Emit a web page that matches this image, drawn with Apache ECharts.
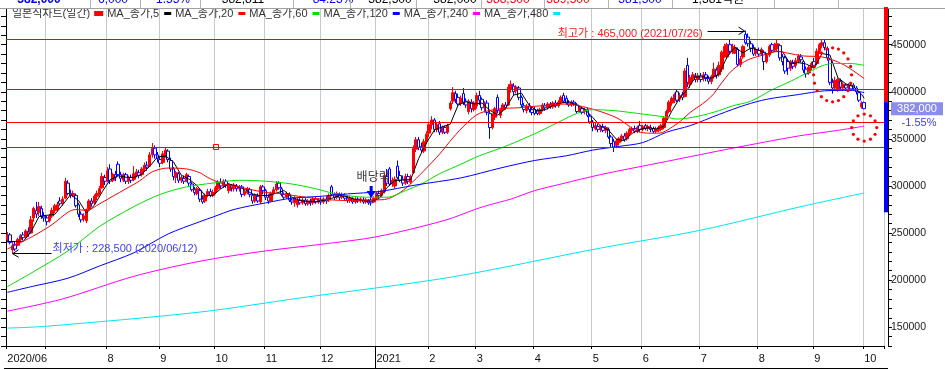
<!DOCTYPE html>
<html>
<head>
<meta charset="utf-8">
<script src="https://cdn.jsdelivr.net/npm/echarts@6/dist/echarts.min.js"></script>
<style>
html, body { margin: 0; padding: 0; background: #fff; }
#chart { width: 945px; height: 370px; }
</style>
</head>
<body>
<div id="chart"></div>
<script>
// 거래일 (월별)
var tradeDays = [
  ['2020/06', [10,11,12,15,16,17,18,19,22,23,24,25,26,29,30]],
  ['2020/07', [1,2,3,6,7,8,9,10,13,14,15,16,17,20,21,22,23,24,27,28,29,30,31]],
  ['2020/08', [3,4,5,6,7,10,11,12,13,14,18,19,20,21,24,25,26,27,28,31]],
  ['2020/09', [1,2,3,4,7,8,9,10,11,14,15,16,17,18,21,22,23,24,25,28,29]],
  ['2020/10', [5,6,7,8,12,13,14,15,16,19,20,21,22,23,26,27,28,29,30]],
  ['2020/11', [2,3,4,5,6,9,10,11,12,13,16,17,18,19,20,23,24,25,26,27,30]],
  ['2020/12', [1,2,3,4,7,8,9,10,11,14,15,16,17,18,21,22,23,24,28,29,30]],
  ['2021/01', [4,5,6,7,8,11,12,13,14,15,18,19,20,21,22,25,26,27,28,29]],
  ['2021/02', [1,2,3,4,5,8,9,10,15,16,17,18,19,22,23,24,25,26]],
  ['2021/03', [2,3,4,5,8,9,10,11,12,15,16,17,18,19,22,23,24,25,26,29,30,31]],
  ['2021/04', [1,2,5,6,7,8,9,12,13,14,15,16,19,20,21,22,23,26,27,28,29,30]],
  ['2021/05', [3,4,6,7,10,11,12,13,14,17,18,20,21,24,25,26,27,28,31]],
  ['2021/06', [1,2,3,4,7,8,9,10,11,14,15,16,17,18,21,22,23,24,25,28,29,30]],
  ['2021/07', [1,2,5,6,7,8,9,12,13,14,15,16,19,20,21,22,23,26,27,28,29,30]],
  ['2021/08', [2,3,4,5,6,9,10,11,12,13,17,18,19,20,23,24,25,26,27,30,31]],
  ['2021/09', [1,2,3,6,7,8,9,10,13,14,15,16,17,23,24,27,28,29,30]],
  ['2021/10', [1]]
];

// 월 눈금 라벨
var monthLabels = {
  '2020/06': '2020/06', '2020/07': '', '2020/08': '8', '2020/09': '9', '2020/10': '10',
  '2020/11': '11', '2020/12': '12', '2021/01': '2021', '2021/02': '2', '2021/03': '3',
  '2021/04': '4', '2021/05': '5', '2021/06': '6', '2021/07': '7', '2021/08': '8',
  '2021/09': '9', '2021/10': '10'
};

// 일봉 [시가, 종가, 저가, 고가] (천원)
var c2006 = [[243,248,240,251],[248,240,238,250],[232,236.5,228.5,241],[238,233,231,241],[237,243,236,245],
  [243,247,241,249],[248,245,242,251],[246,252,244,254],[251,249,246,256],[250,264,249,268],
  [266,276,262,278],[274,270,266,283],[272,278,268,283],[276,268,265,279],[268,266,262,272]];
var c2007 = [[266,262,258,268],[263,268,261,270],[268,274,266,277],[274,279,271,281],[275,280,273,283],
  [284,281,279,288],[282,286,279,289],[287,305,286,308.5],[303,292,290,306],[292,290,287,296],
  [290,292,288,295],[290,279,277,292],[280,270,267,282],[270,264,261,273],[265,268,262,271],
  [263,275,260.5,276],[276,284,274,286],[284,281,278,287],[282,289,280,291],[289,292,285,295],
  [292,297,290,300],[298,310,297,314],[309,305,301,312]];
var c2008 = [[306,316,304,320],[318,305,302,323],[306,312,304,314],[312,309,305,316],[323,312,310,326],
  [312,308,304,315],[306,312,304,314],[312,305,302,314],[305,309,302,311],[309,306,303,312],
  [307,313,305,321],[312,315,309,318],[314,311,308,317],[312,318,310,320],[318,322,315,325],
  [322,320,316,326],[321,333,320,336],[333,340,330,345.5],[340,333,329,343],[333,329,325,336]];
var c2009 = [[328,324,320,331],[325,334,323,337],[333,338,330,341],[337,328,325,339],[327,318,315,330],
  [318,310,306,320],[309,314,303,316],[313,306,303,315],[306,309,303,311],[308,305,302,311],
  [305,312,304,314],[310,303,300,312],[302,296,294,304],[296,293,290,299],[292,297,290,299],
  [295,286,283,297],[286,283,281,290],[284,290,282,292],[291,294,288,297],[294,290,288,297],
  [290,293,288,296]];
var c2010 = [[293,298,291,300],[297,304,295,306],[304,300,297,308],[300,305,298,307],[305,301,298,307],
  [295,301,292,303],[300,298,294,302],[297,301,294,303],[300,297,294,302],[297,299,294,301],
  [299,291,288,301],[291,294,289,296],[293,297,291,299],[296,291,288,298],[290,284,281,292],
  [284,290,282,292],[289,284,282,292],[283,299,281,301],[299,295,291,301]];
var c2011 = [[295,288,285,297],[288,284,281,291],[284,292,283,294],[292,296,290,299],[296,302,294,305],
  [303,298,296,305],[297,291,289,299],[291,288,285,293],[288,292,286,294],[291,285,283,293],
  [285,283,280,287],[282,287,278,289],[280,285,277,287],[285,282,280,287],[282,285,280,287],
  [285,281,279,287],[281,284,279,286],[284,282,279,286],[282,286,280,288],[286,283,281,288],
  [283,285,281,287]];
var c2012 = [[285,283,280,288],[283,286,281,288],[286,284,281,289],[285,290,283,292],[299,291,289,301],
  [291,288,285,293],[288,292,286,294],[291,288,285,293],[288,291,286,293],[290,287,284,292],
  [287,285,282,289],[285,287,282,289],[286,283,281,288],[283,286,281,288],[286,284,282,288],
  [284,286,282,288],[285,283,281,288],[283,285,281,287],[284,282,280,286],[285,282,279,292],
  [283,287,282,289]];
var c2101 = [[287,292,285,294],[292,290,287,295],[290,295,288,297],[294,311,292,314],[310,303,300,318],
  [318,302,300,320],[302,306,299,309],[300,307,297,310],[321,309,307,327],[311,306,304,316],
  [307,303,300,311],[303,310,301,313],[310,305,302,313],[304,310,302,312],[314,340,313,343],
  [339,349,336,352],[349,341,338,352],[342,338,335,346],[337,347,335,350],[347,355,344,358]];
var c2102 = [[356,365,352,368],[365,370,360,374],[370,360,357,372],[360,365,357,368],[366,357,354,369],
  [357,362,355,364],[362,357,355,364],[357,364,355,366],[382,388,380,390],[390,399,387,405],
  [398,392,388,401],[394,387,385,398],[388,393,385,396],[398,389,386,404],[390,386,383,393],
  [379,390,376,392],[389,382,378,392],[381,388,379,390]];
var c2103 = [[385,396,382,399],[396,391,386,401],[392,383,380,394],[383,388,378,390],[388,378,375,391],
  [377,362,350,380],[362,374,360,377],[373,382,370,384],[394,380,377,397],[375,381,372,383],
  [381,386,379,388],[386,383,381,389],[386,405,385,408],[403,408,399,412],[406,400,396,409],
  [401,405,398,407],[404,394,391,406],[394,386,383,396],[385,381,378,388],[380,385,377,387],
  [385,381,378,388],[381,378,375,384]];
var c2104 = [[381,377,375,384],[380,377,375,382],[377,381,375,383],[381,386,379,388],[385,383,380,388],
  [383,387,381,389],[386,384,382,389],[384,388,382,390],[388,385,383,391],[385,389,383,391],
  [389,394,387,396],[396,390,388,399],[393,388,386,396],[388,386,384,391],[386,389,384,391],
  [389,387,385,391],[386,379,377,388],[380,383,378,385],[382,378,376,384],[379,381,376,383],
  [381,375,373,383],[374,368,366,376]];
var c2105 = [[368,362,358,370],[361,364,359,367],[363,360,357,366],[360,363,357,365],[363,359,357,366],
  [359,362,356,364],[360,352,350,362],[352,345,341,354],[347,341,336,350],[343,348,340,350],
  [346,350,343,352],[350,353,347,355],[353,349,347,356],[350,356,348,358],[355,360,353,362],
  [359,361,356,363],[361,358,356,364],[358,362,356,364],[364,360,357,369]];
var c2106 = [[360,363,358,365],[364,361,359,366],[361,363,358,365],[362,360,357,365],[361,358,356,363],
  [358,360,356,363],[359,362,357,364],[360,364,358,366],[362,372,360,374],[372,379,370,381],
  [379,389,377,391],[388,393,385,395],[391,397,388,399],[400,391,389,402],[392,396,389,399],
  [397,394,391,400],[395,422,394,425],[428,410,405,436],[408,415,404,418],[414,418,410,421],
  [416,413,410,420],[413,417,410,420]];
var c2107 = [[417,413,410,420],[414,418,411,421],[418,414,411,421],[414,411,408,417],[411,416,408,418],
  [416,424,414,431],[423,417,414,426],[418,428,416,432],[424,442,421,444],[440,448,436,451],
  [437,450,435,452],[450,443,440,456],[443,448,440,451],[441,447,440,450],[445,429,427,447],
  [429,435,426,438],[437,448,435,450],[461,452,450,465],[458,451,448,462],[451,446,442,454],
  [447,440,438,450],[441,444,438,447]];
var c2108 = [[444,440,437,447],[441,445,438,447],[442,432,423,444],[432,439,430,441],[439,448,437,450],
  [450,444,441,452],[444,450,442,452],[446,451,443,455],[449,436,433,451],[437,432,428,440],
  [436,422,419,438],[432,425,418,434],[425,432,422,434],[431,427,424,434],[428,433,425,436],
  [432,438,430,440],[437,434,431,440],[432,423,420,434],[424,419,415,427],[420,426,418,428],
  [426,430,423,432]];
var c2109 = [[432,428,425,436],[430,443,428,446],[443,450,440,452],[449,452,446,456],[452,447,444,455],
  [446,436,433,448],[434,410,407,436],[410,404,398,414],[404,412,401,416],[402,413,400,415],
  [411,405,402,414],[404,408,401,410],[407,404,401,409],[404,407,401,409],[407,403,401,409],
  [407,404,402,409],[404,400,397,406],[399,391,389,401],[384,388,382,390]];
var c2110 = [[388.5,382,381.5,389.5]];

// 이동평균 [거래일 순번, 값] (천원)
var ma5 = [[0,241],[3,241],[6,240.9],[9,251.4],[12,267.4],[15,268.8],[18,269.8],[21,280],[24,290.8],[27,284.6],
  [30,271.2],[33,279.4],[36,293.8],[39,306.6],[42,310.8],[45,309.2],[48,309],[51,312.6],[54,320.8],[57,331],
  [60,331.6],[63,325.6],[66,311.4],[69,307],[72,300.2],[75,289.8],[78,290],[81,297],[84,302.2],[87,299.6],
  [90,296.4],[93,291.4],[96,289.6],[99,290],[102,292.4],[105,295],[108,287.8],[111,284.4],[114,283.4],[117,283.2],
  [120,284.6],[123,286.8],[126,289.8],[129,288.6],[132,285.6],[135,284.4],[138,283.6],[141,286.6],[144,298.2],[147,305.8],
  [150,306.2],[153,306.8],[156,329],[159,346],[162,359.4],[165,362.8],[168,365.6],[171,386],[174,389.4],[177,387],
  [180,388],[183,380.4],[186,375.2],[189,382.4],[192,396.4],[195,398.6],[198,385.4],[201,379.6],[204,380.8],[207,385.6],
  [210,388],[213,389.4],[216,385.8],[219,381.6],[222,372.8],[225,363.4],[228,359.2],[231,349.6],[234,348.2],[237,355.8],
  [240,360.2],[243,361.8],[246,360.4],[249,363.2],[252,379.4],[255,393.2],[258,402.6],[261,415.6],[264,415.8],[267,414.4],
  [270,419.2],[273,437],[276,447.2],[279,441.4],[282,446.4],[285,444.2],[288,440],[291,442.6],[294,442.6],[297,429.4],
  [300,431],[303,429.4],[306,425.2],[309,440.6],[312,439],[315,415],[318,408.4],[321,405.2],[324,397.2],[325,393]];
var ma20 = [[0,233],[10,247],[17,259],[23,272],[26,275],[30,274],[35,281],[40,289],[45,297],[50,305],
  [55,315],[61,319],[68,318],[73,314],[76,309],[81,303],[91,297],[98,293],[103,292],[108,290],
  [119,286],[129,284.5],[136,285],[143,285.5],[149,293],[154,305],[159,319],[164,334],[169,351],[174,366],
  [179,377],[187,382],[194,383],[202,385],[212,387],[220,383],[227,377],[232,371],[239,358],[244,356],
  [247,356],[254,366],[259,378],[265,390],[268,398],[270,406],[275,423],[281,434],[288,440],[292,443],
  [296,441],[302,438],[309,437],[317,429],[325,414]];
var ma60 = [[0,193],[10,209],[23,231],[35,257],[48,278],[58,291],[68,299],[78,303],[88,306],[98,305],
  [108,302],[117,297],[124,292],[136,288],[144,288],[151,295],[157,302],[164,313],[172,323],[179,332],
  [187,340],[194,348],[202,358],[210,369],[216,377],[222,381],[230,380],[239,377],[250,373],[254,371],
  [262,374],[270,380],[275,385],[282,390],[290,402],[297,411],[304,421],[309,427.5],[313,430],[320,430],[325,428]];
var ma120 = [[0,187],[10,193.6],[23,202],[35,215],[48,229],[61,249],[73,262],[78,267],[86,275],[98,282],
  [108,287],[119,289],[129,291.5],[141,294],[155,301],[172,308.5],[187,319],[200,327],[212,332],[222,338],
  [232,342],[241,346],[250,357],[259,364],[270,376],[280,386],[288,392],[300,397],[310,401],[320,401.5],[325,399]];
var ma240 = [[0,167],[21,180],[48,204],[73,220],[98,231],[119,238],[140,246],[166,263.5],[179,276.6],[187,283],
  [191,286],[200,295],[210,302],[225,312],[250,326],[275,340],[300,353],[315,359],[325,363.5]];
var ma480 = [[0,149],[15,151],[73,166],[111,181],[168,203],[225,234],[263,253],[301,278],[325,292.5]];

// 수평 기준선 (원)
var hLines = [455500, 402500, 368000, 341500];

var lastClose = 382000;
var lastChange = '-1.55%';
var highInfo = { idx: 280, value: 465000, text: '최고가 : 465,000 (2021/07/26)' };
var lowInfo = { idx: 2, value: 228500, text: '최저가 : 228,500 (2020/06/12)' };
var exDivIdx = 138;

var headerCells = [
  ['382,000', 39, '#0000ff', true], ['6,000', 113, '#0000ff'], ['1.55%', 173, '#0000ff'],
  ['382,811', 243, '#000000'], ['84.23%', 333, '#0000ff'], ['382,500', 390, '#000000'],
  ['382,000', 455, '#000000'], ['388,500', 508, '#ff0000'], ['389,500', 568, '#ff0000'],
  ['381,500', 640, '#0000ff'], ['1,381억원', 718, '#000000']
];
var headerSeps = [90, 140, 200, 293, 350, 416, 481, 544, 608, 672, 774, 838];

var FONT = '"Liberation Sans", "Noto Sans CJK KR", sans-serif';

// ---- build ----
var dates = [];
var monthStart = {};
tradeDays.forEach(function (m) {
  monthStart[dates.length] = m[0];
  m[1].forEach(function (d) { dates.push(m[0] + '/' + (d < 10 ? '0' : '') + d); });
});
var categories = dates.slice();
for (var k = 1; k <= 7; k++) categories.push('pad' + k);

var candles = [].concat(c2006, c2007, c2008, c2009, c2010, c2011, c2012, c2101, c2102,
  c2103, c2104, c2105, c2106, c2107, c2108, c2109, c2110).map(function (r) {
  return [r[0] * 1000, r[1] * 1000, r[2] * 1000, r[3] * 1000];
});

function isMonthStart(idx) { return monthStart.hasOwnProperty(idx); }

var maDefs = [
  ['MA_종가,5', ma5, '#000000', false],
  ['MA_종가,20', ma20, '#ff0000', true],
  ['MA_종가,60', ma60, '#00e000', true],
  ['MA_종가,120', ma120, '#0000ff', true],
  ['MA_종가,240', ma240, '#ff00ff', true],
  ['MA_종가,480', ma480, '#00e6f0', true]
];

var series = [{
  name: '일본식차트(일간)',
  type: 'candlestick',
  data: candles,
  barWidth: 3,
  z: 2,
  itemStyle: { color: '#ff0000', color0: '#ffffff', borderColor: '#ff0000', borderColor0: '#0000ff', borderWidth: 1 },
  markLine: {
    silent: true, symbol: ['none', 'none'], label: { show: false },
    lineStyle: { color: '#ff0000', width: 1, type: 'solid' },
    data: hLines.map(function (v) { return { yAxis: v }; })
  }
}];
maDefs.forEach(function (d) {
  series.push({
    name: d[0], type: 'line', z: 3, silent: true,
    data: d[1].map(function (p) { return [p[0], p[1] * 1000]; }),
    smooth: d[3] ? 0.3 : false,
    showSymbol: false, symbol: 'none',
    color: d[2],
    lineStyle: { width: 1, color: d[2] }
  });
});

var legendData = [{ name: '일본식차트(일간)', itemStyle: { color: '#ff0000' } }].concat(
  maDefs.map(function (d) { return { name: d[0], itemStyle: { color: d[2] } }; }));

var chart = echarts.init(document.getElementById('chart'));
chart.setOption({
  animation: false,
  backgroundColor: '#ffffff',
  grid: { left: 6, right: 61, top: 7, bottom: 24 },
  legend: {
    left: 12, top: 8, align: 'right', icon: 'rect', itemWidth: 7, itemHeight: 3, itemGap: 4,
    selectedMode: false, padding: 0,
    textStyle: { fontSize: 11, color: '#333', fontFamily: FONT, padding: [0, 0, 0, 0] },
    data: legendData
  },
  xAxis: {
    type: 'category', data: categories, boundaryGap: true,
    axisLine: { lineStyle: { color: '#000', width: 1 } },
    axisTick: { show: true, interval: isMonthStart, length: 3, lineStyle: { color: '#000' } },
    axisLabel: {
      interval: isMonthStart, align: 'left', margin: 7, fontSize: 11, color: '#111', fontFamily: FONT,
      formatter: function (v, idx) { return isMonthStart(idx) ? monthLabels[monthStart[idx]] : ''; }
    },
    splitLine: { show: true, interval: isMonthStart, lineStyle: { color: '#c8c8c8', width: 1 } }
  },
  yAxis: [{
    type: 'value', position: 'right', offset: 4, min: 130000, max: 490000, interval: 10000,
    axisLine: { show: true, lineStyle: { color: '#000' } },
    axisTick: { show: true, length: 4, lineStyle: { color: '#000' } },
    axisLabel: {
      margin: 3, fontSize: 10.5, color: '#202020', fontFamily: FONT,
      formatter: function (v) { return v % 50000 === 0 ? String(v) : ''; }
    },
    splitLine: { show: false }
  }, {
    type: 'value', position: 'left', min: 130000, max: 490000, interval: 10000,
    axisLine: { show: true, lineStyle: { color: '#000' } },
    axisTick: { show: true, length: 5, lineStyle: { color: '#000' } },
    axisLabel: { show: false },
    splitLine: { show: false }
  }],
  series: series
});

// ---- annotations ----
function px(i, v) { return chart.convertToPixel({ xAxisIndex: 0, yAxisIndex: 0 }, [i, v]); }
function txt(x, y, s, color, size, align, bold) {
  return { type: 'text', x: x, y: y, z: 100, silent: true,
    style: { text: s, fill: color, font: (bold ? 'bold ' : '') + size + 'px ' + FONT,
      textAlign: align, align: align, textVerticalAlign: 'middle', verticalAlign: 'middle' } };
}
function ln(x1, y1, x2, y2, color, w) {
  return { type: 'line', z: 100, silent: true, shape: { x1: x1, y1: y1, x2: x2, y2: y2 },
    style: { stroke: color, lineWidth: w || 1 } };
}
var g = [];

// 상단 표
g.push({ type: 'rect', z: 90, silent: true, shape: { x: 0, y: 0, width: 945, height: 8 }, style: { fill: '#ffffff' } });
headerCells.forEach(function (c) { g.push(txt(c[1], 0, c[0], c[2], 12, 'center', c[3])); });
headerSeps.forEach(function (x) { g.push(ln(x + 0.5, 0, x + 0.5, 8, '#b4b4b4')); });
g.push(ln(0, 8.5, 945, 8.5, '#a0a0a0'));

// 최고가
var ph = px(highInfo.idx, highInfo.value);
g.push(txt(ph[0] - 43, ph[1] + 3, highInfo.text, '#ff1a1a', 11, 'right'));
g.push(ln(ph[0] - 38, Math.round(ph[1]) + 0.5, ph[0] - 1, Math.round(ph[1]) + 0.5, '#000'));
g.push({ type: 'polyline', z: 100, silent: true,
  shape: { points: [[ph[0] - 7, ph[1] - 3.5], [ph[0] - 1, ph[1] + 0.5], [ph[0] - 7, ph[1] + 4]] },
  style: { stroke: '#000', lineWidth: 1, fill: null } });

// 최저가
var pl = px(lowInfo.idx, lowInfo.value);
g.push(txt(pl[0] + 40, pl[1] - 4, lowInfo.text, '#3d3dff', 11, 'left'));
g.push(ln(pl[0] + 39, Math.round(pl[1]) + 0.5, pl[0], Math.round(pl[1]) + 0.5, '#000'));
g.push({ type: 'polyline', z: 100, silent: true,
  shape: { points: [[pl[0] + 6, pl[1] - 3.5], [pl[0], pl[1] + 0.5], [pl[0] + 6, pl[1] + 4]] },
  style: { stroke: '#000', lineWidth: 1, fill: null } });

// 배당락
var pe = px(exDivIdx, 300000);
g.push(txt(pe[0] + 2, 178, '배당락', '#3a3a3a', 12, 'center'));
g.push({ type: 'polygon', z: 100, silent: true,
  shape: { points: [[pe[0] - 1.5, 186], [pe[0] + 1.5, 186], [pe[0] + 1.5, 191], [pe[0] + 4.5, 191],
    [pe[0], 198], [pe[0] - 4.5, 191], [pe[0] - 1.5, 191]] },
  style: { fill: '#0000ff' } });

// 작은 사각 표시
var ps = px(79, 341500);
g.push({ type: 'rect', z: 100, silent: true, shape: { x: Math.round(ps[0]) - 2.5, y: Math.round(ps[1]) - 2.5, width: 5, height: 5 },
  style: { fill: null, stroke: '#ff0000', lineWidth: 1 } });

// 점선 원
function dotRing(cx, cy, rx, ry, n) {
  for (var j = 0; j < n; j++) {
    var a = 2 * Math.PI * j / n;
    g.push({ type: 'circle', z: 100, silent: true, shape: { cx: cx + rx * Math.cos(a), cy: cy + ry * Math.sin(a), r: 1.6 },
      style: { fill: '#ff0000' } });
  }
}
var r1 = px(313, 418000);
dotRing(r1[0], r1[1], 19, 27, 20);
var r2 = px(325, 362000);
dotRing(r2[0], r2[1], 12.5, 13.5, 12);

// 우측 막대
var yTop = px(0, 490000)[1], yMid = px(0, 389000)[1], yBot = px(0, 272000)[1];
g.push({ type: 'rect', z: 100, silent: true, shape: { x: 884, y: yTop, width: 4, height: yMid - yTop }, style: { fill: '#ff0000' } });
g.push({ type: 'rect', z: 100, silent: true, shape: { x: 884, y: yMid, width: 4, height: yBot - yMid }, style: { fill: '#0000ff' } });

// 현재가 표시
var pc = px(325, lastClose);
g.push({ type: 'rect', z: 100, silent: true, shape: { x: 891, y: pc[1] - 6.5, width: 52, height: 13 }, style: { fill: '#8c8cf0' } });
g.push(txt(917, pc[1], '382,000', '#ffffff', 11, 'center'));
g.push(txt(919, pc[1] + 14, lastChange, '#3c3cf0', 11, 'center'));

// 연도 구분선, 하단선
var b0 = px(140, 300000)[0], b1 = px(141, 300000)[0];
var yearX = Math.round(b0 - (b1 - b0) / 2) + 0.5;
var axisY = px(0, 130000)[1];
g.push(ln(yearX, axisY, yearX, 368, '#000'));
g.push(ln(4, 368.5, 888, 368.5, '#000'));

chart.setOption({ graphic: g });
</script>
</body>
</html>
